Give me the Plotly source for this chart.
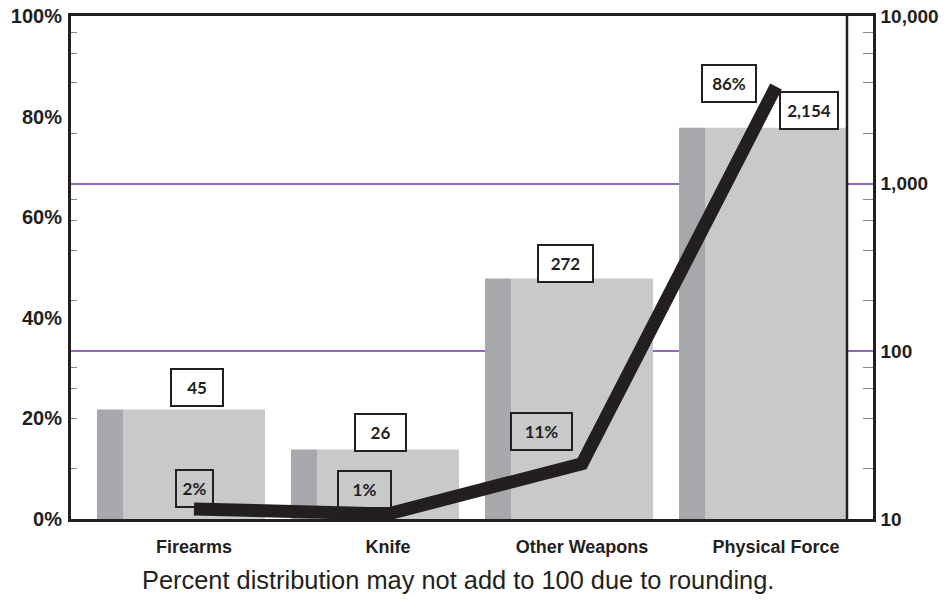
import numpy as np
import plotly.graph_objects as go

# ---------------- data ----------------
categories = ["Firearms", "Knife", "Other Weapons", "Physical Force"]
counts = [45, 26, 272, 2154]            # right axis (log)
count_labels = ["45", "26", "272", "2,154"]
percents = [2, 1, 11, 86]               # left axis (percent)
percent_labels = ["2%", "1%", "11%", "86%"]
left_ticks = [0, 20, 40, 60, 80, 100]
right_ticks = [10, 100, 1000, 10000]
right_ticktext = ["10", "100", "1,000", "10,000"]
footnote = "Percent distribution may not add to 100 due to rounding."

# ---------------- style ----------------
LIGHT = "#c8c9cb"
DARK = "#a7a8ab"
INK = "#231f20"
GRID = "#9068c2"
LIGHT_HALF = 0.366
DARK_W = 0.134

count_shift = [(3, 22, 40), (-8, 17, 39), (-17, 15, 43), (33, 17, 46)]
pct_shift = [(0, 20, 25), (-24, 24, 41), (-41, 32, 49), (-47, 3, 42)]

minor_log = [m * 10 ** d for d in range(1, 4) for m in (2, 4, 6, 8)]
minor_pct = [(np.log10(v) - 1) / 3 * 100 for v in minor_log]

fig = go.Figure()
fig.add_trace(go.Bar(x=categories, y=counts, offset=-LIGHT_HALF, width=2 * LIGHT_HALF,
                     marker=dict(color=LIGHT, line=dict(width=0)), yaxis="y",
                     showlegend=False, hoverinfo="skip"))
fig.add_trace(go.Bar(x=categories, y=counts, offset=-LIGHT_HALF - DARK_W, width=DARK_W,
                     marker=dict(color=DARK, line=dict(width=0)), yaxis="y",
                     showlegend=False, hoverinfo="skip"))
fig.add_trace(go.Scatter(x=categories, y=percents, mode="lines", yaxis="y2",
                         line=dict(color=INK, width=13), showlegend=False,
                         hoverinfo="skip"))

annots = []
lab_font = dict(family="Lato, Open Sans, sans-serif", size=17, color=INK)
for i, c in enumerate(categories):
    dx, dy, w = count_shift[i]
    annots.append(dict(x=c, y=np.log10(counts[i]), xref="x", yref="y", text="<b>%s</b>" % count_labels[i],
                       showarrow=False, xanchor="center", yanchor="middle", xshift=dx, yshift=dy,
                       width=w, height=25, bgcolor="white", bordercolor=INK, borderwidth=2,
                       borderpad=5, font=lab_font))
    dx, dy, w = pct_shift[i]
    annots.append(dict(x=c, y=percents[i], xref="x", yref="y2", text="<b>%s</b>" % percent_labels[i],
                       showarrow=False, xanchor="center", yanchor="middle", xshift=dx, yshift=dy,
                       width=w, height=25, bgcolor="rgba(0,0,0,0)", bordercolor=INK, borderwidth=2,
                       borderpad=5, font=lab_font))
annots.append(dict(x=0.4825, y=-0.121, xref="paper", yref="paper", text=footnote, showarrow=False,
                   xanchor="center", yanchor="middle",
                   font=dict(family="Liberation Sans, sans-serif", size=25.4, color=INK)))

tick_font = dict(family="Liberation Sans, Arial, sans-serif", size=20, color=INK, weight="bold")
right_font = dict(family="Liberation Sans, Arial, sans-serif", size=19, color=INK, weight="bold")

fig.update_layout(
    template="none",
    width=949, height=615,
    margin=dict(l=71, r=76, t=16, b=96, pad=0, autoexpand=False),
    paper_bgcolor="white", plot_bgcolor="white",
    barmode="overlay",
    xaxis=dict(range=[-0.634, 3.5], showline=True, mirror=True, linecolor=INK, linewidth=2.5,
               showgrid=False, zeroline=False, ticks="", ticklabelstandoff=10, automargin=False,
               tickfont=dict(family="Liberation Sans, sans-serif", size=18, color=INK, weight="bold")),
    yaxis=dict(type="log", range=[1, 4], side="right", tickvals=right_ticks, ticktext=right_ticktext,
               showline=True, mirror=True, linecolor=INK, linewidth=2.5, automargin=False,
               showgrid=True, gridcolor=GRID, gridwidth=1.5, zeroline=False, ticks="",
               ticklabelstandoff=1, tickfont=right_font, ticklabeloverflow="allow",
               minor=dict(tickvals=minor_log, ticks="inside", ticklen=10, tickcolor="#8a8a8a",
                          tickwidth=1, showgrid=False)),
    yaxis2=dict(range=[0, 100], overlaying="y", side="left", tickvals=left_ticks, automargin=False,
                ticktext=["%d%%" % t for t in left_ticks], showline=False, showgrid=False,
                zeroline=False, ticks="", ticklabelstandoff=8, tickfont=tick_font,
                ticklabeloverflow="allow",
                minor=dict(tickvals=minor_pct, ticks="inside", ticklen=6, tickcolor="#8a8a8a",
                           tickwidth=1, showgrid=False)),
    annotations=annots,
    shapes=[dict(type="line", xref="x", yref="paper", x0=3 + LIGHT_HALF, x1=3 + LIGHT_HALF,
                 y0=0, y1=1, line=dict(color=INK, width=2.5))],
)

fig.write_html("out.html", config={"displayModeBar": False},
               post_script="document.body.style.margin='0px';")
